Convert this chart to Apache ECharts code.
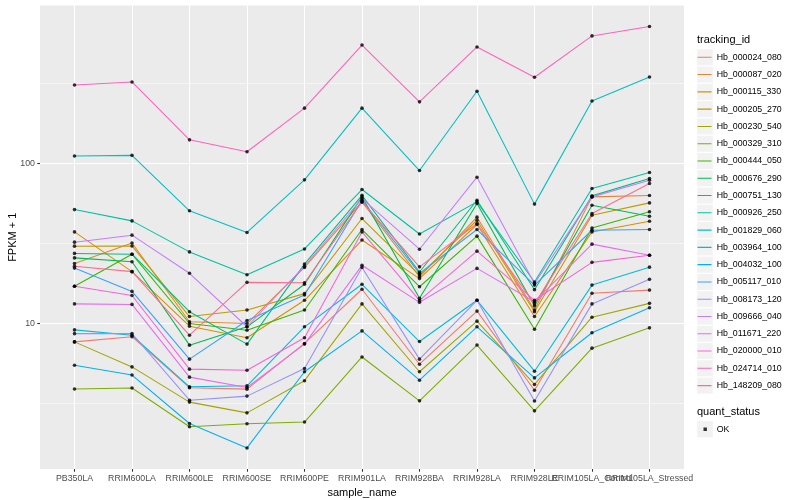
<!DOCTYPE html>
<html><head><meta charset="utf-8">
<script src="https://cdn.jsdelivr.net/npm/echarts@6/dist/echarts.min.js"></script>
<style>html,body{margin:0;padding:0;background:#fff}#c{width:800px;height:500px}</style>
</head><body><div id="c"></div>
<script>
// ---- data ----
const categories = ['PB350LA','RRIM600LA','RRIM600LE','RRIM600SE','RRIM600PE','RRIM901LA','RRIM928BA','RRIM928LA','RRIM928LE','RRIM105LA_Control','RRIM105LA_Stressed'];
const trackingIds = ['Hb_000024_080','Hb_000087_020','Hb_000115_330','Hb_000205_270','Hb_000230_540','Hb_000329_310','Hb_000444_050','Hb_000676_290','Hb_000751_130','Hb_000926_250','Hb_001829_060','Hb_003964_100','Hb_004032_100','Hb_005117_010','Hb_008173_120','Hb_009666_040','Hb_011671_220','Hb_020000_010','Hb_024714_010','Hb_148209_080'];
const hb_000024_080 = [7.64, 8.23, 3.95, 3.87, 7.47, 16.3, 5.54, 11.9, 3.81, 15.4, 16.1];
const hb_000087_020 = [23.6, 31.7, 10.2, 9.95, 22.3, 57.3, 19.5, 46, 12.1, 61.6, 62.8];
const hb_000115_330 = [37.2, 21.0, 9.58, 8.1, 13.9, 33.1, 19.0, 41.4, 11.0, 37.2, 43.4];
const hb_000205_270 = [30.3, 30.4, 11.0, 12.1, 15.3, 45.1, 20.0, 44, 11.8, 47.3, 56.5];
const hb_000230_540 = [7.64, 5.33, 3.21, 2.75, 4.37, 13.2, 4.97, 10.3, 4.14, 10.9, 13.3];
const hb_000329_310 = [3.88, 3.93, 2.25, 2.35, 2.41, 6.15, 3.27, 7.3, 2.83, 6.98, 9.35];
const hb_000444_050 = [17.0, 27.0, 9.95, 9.04, 12.1, 38.5, 16.9, 35, 9.17, 39.4, 49.7];
const hb_000676_290 = [25.6, 24.2, 7.29, 9.49, 17.5, 61.6, 14.3, 56, 12.8, 54.6, 46.6];
const hb_000751_130 = [27.3, 27.0, 11.8, 7.4, 23.4, 63, 20.9, 58.7, 16.2, 62.5, 80.2];
const hb_000926_250 = [51.3, 43.6, 27.9, 20.1, 29.1, 68.5, 36.1, 57.3, 18.1, 69.5, 87.5];
const hb_001829_060 = [111, 112, 50.4, 36.9, 78.7, 221, 90, 282, 55.5, 245, 346];
const hb_003964_100 = [9.08, 8.4, 4.0, 4.06, 9.49, 17.5, 7.68, 13.9, 5.01, 17.3, 22.4];
const hb_004032_100 = [5.46, 4.74, 2.36, 1.66, 4.97, 8.95, 4.4, 9.49, 4.55, 8.71, 12.5];
const hb_005117_010 = [22.1, 15.8, 5.96, 10.4, 15.0, 58.7, 20.5, 38.5, 17.3, 38.1, 38.5];
const hb_008173_120 = [8.6, 8.62, 3.3, 3.5, 5.21, 22.3, 5.96, 13.9, 3.26, 13.2, 18.8];
const hb_009666_040 = [32.1, 35.5, 20.5, 9.5, 22.7, 60.1, 29, 81.8, 17.7, 61.6, 78.3];
const hb_011671_220 = [13.2, 13.1, 4.6, 3.96, 7.4, 23.0, 13.5, 22.0, 13.6, 31.2, 26.6];
const hb_020000_010 = [17.0, 14.9, 5.16, 5.08, 8.1, 37.2, 13.9, 28.2, 13.9, 24.0, 26.6];
const hb_024714_010 = [308, 322, 140, 118, 221, 548, 242, 533, 345, 625, 715];
const hb_148209_080 = [22.7, 21.0, 8.41, 18.0, 17.9, 57.3, 22.5, 42, 13.2, 48.5, 74.7];
const seriesValues = [hb_000024_080, hb_000087_020, hb_000115_330, hb_000205_270, hb_000230_540, hb_000329_310, hb_000444_050, hb_000676_290, hb_000751_130, hb_000926_250, hb_001829_060, hb_003964_100, hb_004032_100, hb_005117_010, hb_008173_120, hb_009666_040, hb_011671_220, hb_020000_010, hb_024714_010, hb_148209_080];
const yMajorTicks = [10, 100];
const yMinorTicks = [3.1623, 31.623, 316.23];
const quantStatus = ['OK'];

// ---- style ----
const palette = ['#F8766D','#EA8331','#D89000','#C09B00','#A3A500','#7CAE00','#39B600','#00BB4E','#00BF7D','#00C1A3','#00BFC4','#00BAE0','#00B0F6','#35A2FF','#9590FF','#C77CFF','#E76BF3','#FA62DB','#FF62BC','#FF6C90'];
const FONT = '"Liberation Sans", Arial, Helvetica, sans-serif';
const lg = Math.log10;

const allLogs = seriesValues.flat().map(lg);
const lo = Math.min(...allLogs), hi = Math.max(...allLogs);
const span = hi - lo;
const yMin = lo - 0.05 * span, yMax = hi + 0.05 * span;
const catIdx = categories.map((c, i) => i);
const nCat = catIdx.length;

const KEY_W = 15.2, KEY_H = 17.28;
const lineIcon = 'path://M0,0h0.001v0.001h-0.001Z M15.199,17.279h0.001v0.001h-0.001Z M1,8.1h14v1.07h-14Z';
const pointIcon = 'path://M0,0h0.001v0.001h-0.001Z M15.199,17.279h0.001v0.001h-0.001Z M7.0,6.94h3.4v3.4h-3.4Z';
const LEG_LEFT = 696.5, LEG1_TOP = 48.66, LEG2_TOP = 420.6;
const GRID = { left: 40, right: 116, top: 5.5, bottom: 31 };

const series = seriesValues.map((vals, k) => ({
  name: trackingIds[k], type: 'line', xAxisIndex: 0, yAxisIndex: 0,
  data: vals.map((v, i) => [i, lg(v)]),
  showSymbol: false, symbol: 'none', z: 3,
  itemStyle: { color: palette[k] },
  lineStyle: { color: palette[k], width: 1.07 },
  emphasis: { disabled: true }, silent: true
}));
const pts = [];
seriesValues.forEach(vals => vals.forEach((v, i) => pts.push([i, lg(v)])));
series.push({
  name: quantStatus[0], type: 'scatter', data: pts, symbol: 'circle', symbolSize: 3.6,
  itemStyle: { color: '#000' }, z: 4, silent: true
});

const keyRects = [];
trackingIds.forEach((n, i) => keyRects.push({
  type: 'rect', shape: { x: 697.2, y: LEG1_TOP + KEY_H * i + 0.6, width: 15.6, height: 16.1 },
  style: { fill: '#F2F2F2' }, z: 0, silent: true
}));
keyRects.push({ type: 'rect', shape: { x: 697.2, y: LEG2_TOP + 0.6, width: 15.6, height: 16.1 }, style: { fill: '#F2F2F2' }, z: 0, silent: true });

const xLabelStyle = { margin: 5, fontSize: 8.8, color: '#4D4D4D', fontFamily: FONT, hideOverlap: false, showMinLabel: true, showMaxLabel: true, formatter: v => categories[Math.round(v)] };

// main x axis (ticks, grid lines, labels for all but the last two categories);
// the last two labels sit on their own axes so they can overlap as in the original
const xAxes = [{
  type: 'value', min: -0.6, max: nCat - 1 + 0.6, position: 'bottom', offset: 0,
  axisLine: { show: false, onZero: false },
  axisTick: { show: true, length: 2.75, customValues: catIdx, lineStyle: { color: '#333333', width: 1.07 } },
  axisLabel: Object.assign({ customValues: catIdx.slice(0, nCat - 2) }, xLabelStyle),
  splitLine: { show: true, lineStyle: { color: '#FFFFFF', width: 1.07 } },
  name: 'sample_name', nameLocation: 'middle', nameGap: 15,
  nameTextStyle: { fontSize: 11, color: '#000', fontFamily: FONT }
}];
[nCat - 2, nCat - 1].forEach(ci => xAxes.push({
  type: 'value', min: -0.6, max: nCat - 1 + 0.6, position: 'bottom', offset: 0,
  axisLine: { show: false, onZero: false },
  axisTick: { show: false, customValues: [ci] },
  axisLabel: Object.assign({ customValues: [ci] }, xLabelStyle),
  splitLine: { show: false }
}));

const chart = echarts.init(document.getElementById('c'), null, { renderer: 'canvas' });
chart.setOption({
  animation: false,
  backgroundColor: '#fff',
  textStyle: { fontFamily: FONT },
  grid: Object.assign({ show: true, backgroundColor: '#EBEBEB', borderWidth: 0, containLabel: false, outerBoundsMode: 'none' }, GRID),
  xAxis: xAxes,
  yAxis: [{
    type: 'value', min: yMin, max: yMax,
    axisLine: { show: false, onZero: false },
    axisTick: { show: true, length: 2.75, customValues: yMajorTicks.map(lg), lineStyle: { color: '#333333', width: 1.07 } },
    axisLabel: { customValues: yMajorTicks.map(lg), formatter: v => String(Math.round(Math.pow(10, v))), margin: 5, fontSize: 8.8, color: '#4D4D4D', fontFamily: FONT, showMinLabel: true, showMaxLabel: true },
    splitLine: { show: true, lineStyle: { color: '#FFFFFF', width: 1.07 } }
  }, {
    type: 'value', min: yMin, max: yMax, position: 'left',
    axisLine: { show: false, onZero: false },
    axisTick: { show: false, customValues: yMinorTicks.map(lg) },
    axisLabel: { show: false, customValues: yMinorTicks.map(lg) },
    splitLine: { show: true, lineStyle: { color: '#FFFFFF', width: 0.53 } }
  }],
  legend: [{
    data: trackingIds, orient: 'vertical', left: LEG_LEFT, top: LEG1_TOP, padding: 0, itemGap: 0,
    itemWidth: KEY_W, itemHeight: KEY_H, icon: lineIcon, selectedMode: false,
    itemStyle: { borderWidth: 0 }, lineStyle: { width: 0 },
    textStyle: { fontSize: 8.8, color: '#000', fontFamily: FONT, padding: 0 }
  }, {
    data: quantStatus, orient: 'vertical', left: LEG_LEFT, top: LEG2_TOP, padding: 0, itemGap: 0,
    itemWidth: KEY_W, itemHeight: KEY_H, icon: pointIcon, selectedMode: false,
    itemStyle: { borderWidth: 0 },
    textStyle: { fontSize: 8.8, color: '#000', fontFamily: FONT, padding: 0 }
  }],
  graphic: [
    ...keyRects,
    { type: 'text', x: 12.5, y: (GRID.top + 500 - GRID.bottom) / 2, rotation: Math.PI / 2,
      style: { text: 'FPKM + 1', font: '11px ' + FONT, fill: '#000', align: 'center', verticalAlign: 'middle' }, z: 1, silent: true },
    { type: 'text', x: 697, y: 40, style: { text: 'tracking_id', font: '11px ' + FONT, fill: '#000', verticalAlign: 'middle' }, z: 1, silent: true },
    { type: 'text', x: 697, y: 412, style: { text: 'quant_status', font: '11px ' + FONT, fill: '#000', verticalAlign: 'middle' }, z: 1, silent: true }
  ],
  series: series
});
</script></body></html>
